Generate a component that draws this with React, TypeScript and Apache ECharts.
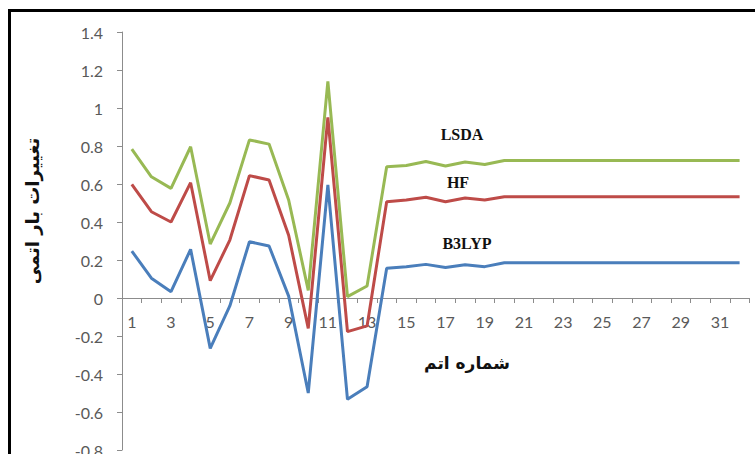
import React, { useEffect, useRef } from "react";
import * as echarts from "echarts";

const atoms = Array.from({ length: 32 }, (_, i) => String(i + 1));

const lsda = [0.784, 0.638, 0.577, 0.796, 0.284, 0.5, 0.832, 0.81, 0.516, 0.04, 1.14, 0.007, 0.063, 0.691, 0.697, 0.718, 0.695, 0.716, 0.703, 0.724, 0.724, 0.724, 0.724, 0.724, 0.724, 0.724, 0.724, 0.724, 0.724, 0.724, 0.724, 0.724];
const hf = [0.598, 0.454, 0.4, 0.607, 0.091, 0.305, 0.644, 0.621, 0.33, -0.16, 0.951, -0.177, -0.147, 0.507, 0.516, 0.53, 0.507, 0.526, 0.516, 0.533, 0.533, 0.533, 0.533, 0.533, 0.533, 0.533, 0.533, 0.533, 0.533, 0.533, 0.533, 0.533];
const b3lyp = [0.247, 0.104, 0.033, 0.256, -0.265, -0.042, 0.296, 0.274, 0.01, -0.5, 0.595, -0.533, -0.467, 0.156, 0.165, 0.177, 0.16, 0.175, 0.165, 0.186, 0.186, 0.186, 0.186, 0.186, 0.186, 0.186, 0.186, 0.186, 0.186, 0.186, 0.186, 0.186];

const yMin = -0.8;
const yMax = 1.4;
const seriesNames = ["LSDA", "HF", "B3LYP"];
const xTitle = "شماره اتم";
const yTitle = "تغییرات بار اتمی";

export default function App() {
  const ref = useRef<HTMLDivElement>(null);
  useEffect(() => {
    if (!ref.current) return;
    const chart = echarts.init(ref.current, null, { renderer: "svg" });
    const axisGray = "#8c8c8c";
    const labelGray = "#595959";
    const gridTop = 32;
    const gridBottom = 4;
    const plotH = 454 - gridTop - gridBottom;
    const zeroOffset = -(plotH * (0 - yMin)) / (yMax - yMin);
    chart.setOption({
      animation: false,
      backgroundColor: "#ffffff",
      grid: { left: 122, right: 5.6, top: gridTop, bottom: gridBottom, containLabel: false, outerBoundsMode: "none" },
      xAxis: {
        type: "category",
        data: atoms,
        boundaryGap: true,
        position: "bottom",
        offset: zeroOffset,
        axisLine: { onZero: false, lineStyle: { color: axisGray, width: 1 } },
        axisTick: { show: true, interval: 0, alignWithLabel: false, length: 5, lineStyle: { color: axisGray } },
        axisLabel: { interval: 1, color: labelGray, fontFamily: "Lato", fontSize: 16, margin: 15 },
        splitLine: { show: false },
      },
      yAxis: {
        type: "value",
        min: yMin,
        max: yMax,
        interval: 0.2,
        axisLine: { show: true, lineStyle: { color: axisGray, width: 1 } },
        axisTick: { show: true, length: 5, lineStyle: { color: axisGray } },
        axisLabel: {
          color: labelGray,
          fontFamily: "Lato",
          fontSize: 16,
          margin: 19,
          formatter: (v: number) => String(parseFloat(v.toFixed(1))),
        },
        splitLine: { show: false },
      },
      series: [
        { name: seriesNames[0], type: "line", data: lsda, symbol: "none", lineStyle: { color: "#98b954", width: 3 }, itemStyle: { color: "#98b954" } },
        { name: seriesNames[1], type: "line", data: hf, symbol: "none", lineStyle: { color: "#be4b48", width: 3 }, itemStyle: { color: "#be4b48" } },
        { name: seriesNames[2], type: "line", data: b3lyp, symbol: "none", lineStyle: { color: "#4a7ebb", width: 3 }, itemStyle: { color: "#4a7ebb" } },
      ],
      graphic: [
        {
          type: "rect",
          shape: { x: 9.5, y: 10.5, width: 800, height: 500 },
          style: { fill: "none", stroke: "#000000", lineWidth: 3 },
          silent: true,
          z: 100,
        },
        {
          type: "text",
          x: 462, y: 134,
          style: { text: seriesNames[0], font: "bold 16px 'Liberation Serif'", fill: "#111", textAlign: "center", textVerticalAlign: "middle" },
        },
        {
          type: "text",
          x: 458, y: 182,
          style: { text: seriesNames[1], font: "bold 16px 'Liberation Serif'", fill: "#111", textAlign: "center", textVerticalAlign: "middle" },
        },
        {
          type: "text",
          x: 467, y: 243,
          style: { text: seriesNames[2], font: "bold 16px 'Liberation Serif'", fill: "#111", textAlign: "center", textVerticalAlign: "middle" },
        },
        {
          type: "text",
          x: 467, y: 363,
          style: { text: xTitle, font: "bold 17px 'DejaVu Sans'", fill: "#111", textAlign: "center", textVerticalAlign: "middle" },
        },
        {
          type: "text",
          x: 32, y: 211,
          rotation: Math.PI / 2,
          style: { text: yTitle, font: "bold 18px 'DejaVu Sans'", fill: "#111", textAlign: "center", textVerticalAlign: "middle" },
        },
      ],
    });
    return () => chart.dispose();
  }, []);
  return <div ref={ref} style={{ position: "absolute", left: 0, top: 0, width: 755, height: 454 }} />;
}
